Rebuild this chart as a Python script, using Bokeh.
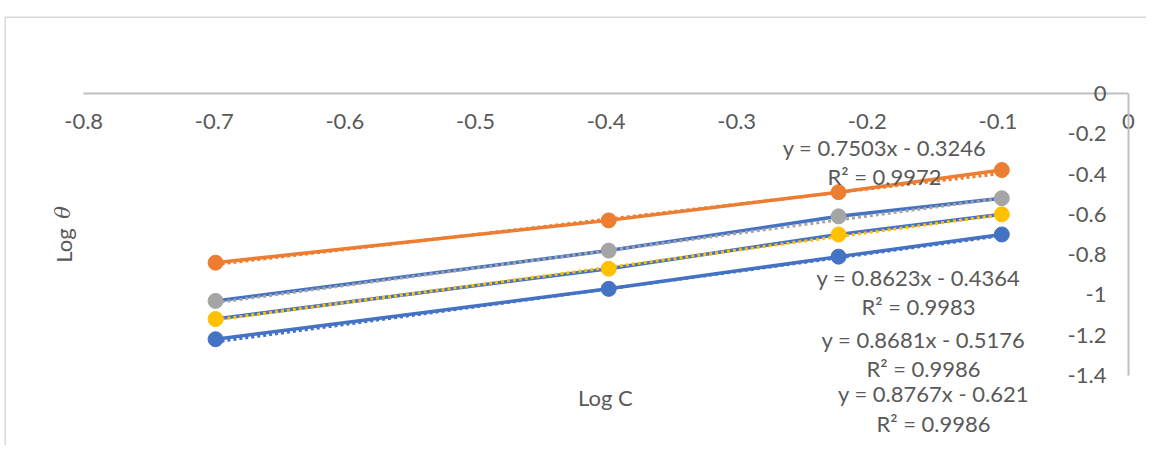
import math
from bokeh.plotting import figure
from bokeh.models import (Range1d, FixedTicker, CustomJSTickFormatter, Span, Label,
                          LinearAxis)
from bokeh.core.properties import value
from bokeh.embed import file_html
from bokeh.resources import INLINE

# ---------------- data ----------------
log_c = [-0.699, -0.398, -0.222, -0.097]
orange_vals = [-0.84, -0.63, -0.49, -0.38]
gray_vals = [-1.03, -0.78, -0.61, -0.52]
yellow_vals = [-1.12, -0.87, -0.70, -0.60]
blue_vals = [-1.22, -0.97, -0.81, -0.70]
slopes = [0.7503, 0.8623, 0.8681, 0.8767]
intercepts = [-0.3246, -0.4364, -0.5176, -0.621]
r2_vals = [0.9972, 0.9983, 0.9986, 0.9986]
x_ticks = [-0.8, -0.7, -0.6, -0.5, -0.4, -0.3, -0.2, -0.1, 0.0]
y_ticks = [-1.4, -1.2, -1.0, -0.8, -0.6, -0.4, -0.2, 0.0]

# ---------------- style ----------------
FONT = "Lato"
TXT = "#595959"
AX = "#bfbfbf"
ORANGE, GRAY, YELLOW, BLUE = "#ED7D31", "#A5A5A5", "#FFC000", "#4472C4"

p = figure(width=1146, height=445,
           x_range=Range1d(-0.8606, 0.01378), y_range=Range1d(-1.7478, 0.3823),
           output_backend="svg", toolbar_location=None,
           x_axis_location=None, y_axis_location=None,
           min_border_left=4, min_border_right=0, min_border_bottom=0, min_border_top=16)
p.grid.grid_line_color = None
p.outline_line_color = None
p.background_fill_color = "white"

fmt = CustomJSTickFormatter(code="""
    if (Math.abs(tick - Math.round(tick)) < 1e-9) { return String(Math.round(tick) === 0 ? 0 : Math.round(tick)); }
    return tick.toFixed(1);
""")

def style_axis(ax, standoff):
    ax.axis_line_color = AX
    ax.axis_line_width = 2
    ax.major_tick_in = 0
    ax.major_tick_out = 0
    ax.minor_tick_in = 0
    ax.minor_tick_out = 0
    ax.major_label_standoff = standoff
    ax.major_label_text_font = FONT
    ax.major_label_text_font_size = "22px"
    ax.major_label_text_color = TXT

xaxis = LinearAxis(fixed_location=0, bounds=(-0.8, 0),
                   ticker=FixedTicker(ticks=x_ticks), formatter=fmt)
style_axis(xaxis, 21)
p.add_layout(xaxis, "below")

yaxis = LinearAxis(fixed_location=0, bounds=(-1.4, 0),
                   ticker=FixedTicker(ticks=y_ticks), formatter=fmt)
style_axis(yaxis, 22)
p.add_layout(yaxis, "left")

# chart border (left and top edges)
p.add_layout(Span(location=p.x_range.start, dimension="height", line_color="#d9d9d9", line_width=3))
p.add_layout(Span(location=p.y_range.end, dimension="width", line_color="#d9d9d9", line_width=3))

series = [
    (orange_vals, ORANGE, ORANGE),
    (gray_vals, GRAY, BLUE),
    (yellow_vals, YELLOW, BLUE),
    (blue_vals, BLUE, BLUE),
]

# connecting lines
for vals, col, linecol in series:
    p.line(log_c, vals, line_color=linecol, line_width=3.5)

# linear trendlines
xmin, xmax = min(log_c), max(log_c)
for (vals, col, linecol), m, b in zip(series, slopes, intercepts):
    p.line([xmin, xmax], [m * xmin + b, m * xmax + b], line_color=col,
           line_width=3, line_dash="3 3")

# markers
for vals, col, linecol in series:
    p.scatter(log_c, vals, size=15, fill_color=col, line_color=col)

# trendline equations
eq_text = [f"y = {m}x - {abs(b)}" for m, b in zip(slopes, intercepts)]
r2_text = [f"R\u00b2 = {r:.4f}" for r in r2_vals]
eq_x = [-0.1868, -0.1608, -0.1570, -0.1493]
eq_y = [-0.2681, -0.9136, -1.2214, -1.4896]
r2_y = [-0.4121, -1.0576, -1.3654, -1.6385]
p.text(eq_x, eq_y, text=eq_text, text_align="center", text_baseline="middle",
       text_font=value(FONT), text_font_size="22px", text_color=TXT)
p.text(eq_x, r2_y, text=r2_text, text_align="center", text_baseline="middle",
       text_font=value(FONT), text_font_size="22px", text_color=TXT)

# axis titles
p.add_layout(Label(x=-0.4005, y=-1.5094, text="Log C", text_align="center",
                   text_baseline="middle", text_font=FONT, text_font_size="22px",
                   text_color=TXT))
p.add_layout(Label(x=-0.8155, y=-0.7547, text="Log", angle=math.pi / 2,
                   text_align="center", text_baseline="middle", text_font=FONT,
                   text_font_size="22px", text_color=TXT))
p.add_layout(Label(x=-0.8155, y=-0.5909, text="\u03b8", angle=math.pi / 2,
                   text_align="center", text_baseline="middle", text_font="DejaVu Serif",
                   text_font_style="italic", text_font_size="21px", text_color=TXT))

open("out.html", "w").write(file_html(p, INLINE))
